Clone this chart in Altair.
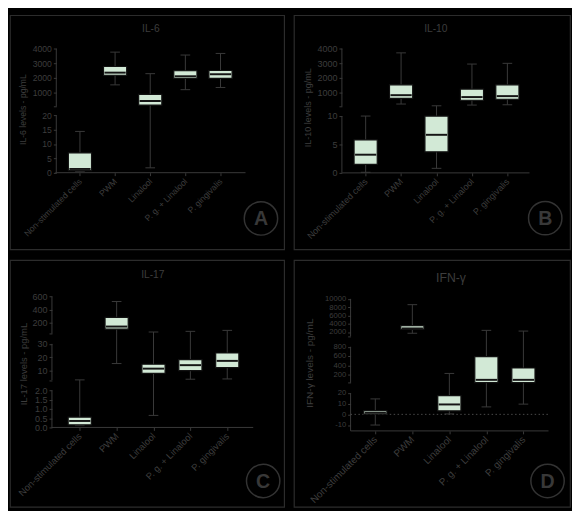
import json
import altair as alt
import pandas as pd

categories = ["Non-stimulated cells", "PWM", "Linalool", "P. g. + Linalool", "P. gingivalis"]

# IL-6 (min, Q1, median, Q3, max)
il6_min = [0.5, 1510, 1.7, 1180, 1330]
il6_q1 = [0.7, 2170, 120, 1950, 1950]
il6_median = [1.3, 2350, 400, 2100, 2240]
il6_q3 = [6.9, 2770, 850, 2480, 2500]
il6_max = [14.4, 3760, 2280, 3560, 3670]

# IL-10
il10_min = [0.1, 190, 0.8, 120, 140]
il10_q1 = [1.5, 580, 3.7, 450, 520]
il10_median = [3.2, 800, 6.7, 670, 735]
il10_q3 = [5.8, 1510, 10.0, 1220, 1510]
il10_max = [10.0, 3710, 70, 2940, 2990]

# IL-17
il17_min = [0.1, 15.3, 0.65, 3.6, 3.8]
il17_q1 = [0.14, 100, 8.0, 10.0, 12.2]
il17_median = [0.35, 140, 11.5, 14.1, 17.3]
il17_q3 = [0.56, 280, 14.8, 18.3, 23.2]
il17_max = [3.1, 525, 56, 66, 81]

# IFN-gamma
ifng_min = [-10, 1700, 0.4, 7, 9.6]
ifng_q1 = [0.3, 2630, 3.3, 26, 26]
ifng_median = [1.5, 2860, 9.3, 87, 87]
ifng_q3 = [3.5, 3560, 17.5, 586, 343]
ifng_max = [14.5, 8600, 225, 2400, 2230]

il6_ticks = [0, 5, 10, 15, 20, 1000, 2000, 3000, 4000]
il6_tick_labels = ["0", "5", "10", "15", "20", "1000", "2000", "3000", "4000"]
il10_ticks = [0, 5, 10, 1000, 2000, 3000, 4000]
il10_tick_labels = ["0", "5", "10", "1000", "2000", "3000", "4000"]
il17_ticks = [0, 0.5, 1.0, 1.5, 2.0, 10, 20, 30, 200, 400, 600]
il17_tick_labels = ["0.0", "0.5", "1.0", "1.5", "2.0", "10", "20", "30", "200", "400", "600"]
ifng_ticks = [-10, 0, 10, 20, 200, 400, 600, 800, 2000, 4000, 6000, 8000, 10000]
ifng_tick_labels = ["-10", "0", "10", "20", "200", "400", "600", "800",
                    "2000", "4000", "6000", "8000", "10000"]

FONT = "Liberation Sans"
TEXT = "#3d3d3d"
AX = "#3a3a3a"
BORDER = "#2c2c2c"
BOX = "#d2e9d6"
EDGE = "#111111"
MED = "#151515"

# layout of each panel (reference pixel space) and its broken y axis
panels = [
    dict(title="IL-6", ytitle="IL-6 levels - pg/mL", letter="A",
         stats=(il6_min, il6_q1, il6_median, il6_q3, il6_max),
         ticks=il6_ticks, labels=il6_tick_labels,
         box=(1, 1, 284, 243), size=(280, 239), fs=8.8, yfs=8.8, tfs=10.5,
         knots=[(0, 164.5), (20, 105), (27, 95.7), (4000, 35.7)],
         segments=[(0, 20), (27, 4000)], breaks=[27], base=0,
         axis_x=49, xline=(48, 245), x0=73.5, dx=36.4,
         title_xy=(147, 15), ytitle_xy=(15, 99), circle=(261, 212), zero=False),
    dict(title="IL-10", ytitle="IL-10 levels - pg/mL", letter="B",
         stats=(il10_min, il10_q1, il10_median, il10_q3, il10_max),
         ticks=il10_ticks, labels=il10_tick_labels,
         box=(293, 1, 286, 243), size=(282, 239), fs=9.2, yfs=9.2, tfs=10.5,
         knots=[(0, 164.7), (10, 105.7), (26, 95.7), (4000, 35.7)],
         segments=[(0, 10), (26, 4000)], breaks=[26], base=0,
         axis_x=342.7, xline=(343, 537), x0=367.3, dx=36.7,
         title_xy=(440, 15), ytitle_xy=(308, 97), circle=(553.3, 211.7), zero=False),
    dict(title="IL-17", ytitle="IL-17 levels - pg/mL", letter="C",
         stats=(il17_min, il17_q1, il17_median, il17_q3, il17_max),
         ticks=il17_ticks, labels=il17_tick_labels,
         box=(1, 253, 284, 256), size=(280, 252), fs=9.6, yfs=9.2, tfs=10.5,
         knots=[(0, 426.7), (2, 388.3), (3, 377.5), (30, 340), (32, 329.3), (600, 291)],
         segments=[(0, 2), (3, 30), (32, 600)], breaks=[3, 32], base=0,
         axis_x=44.5, xline=(44, 253), x0=73.3, dx=38.2,
         title_xy=(149, 269), ytitle_xy=(15.7, 361), circle=(263.3, 482.3), zero=False),
    dict(title="IFN-γ", ytitle="IFN-γ levels - pg/mL", letter="D",
         stats=(ifng_min, ifng_q1, ifng_median, ifng_q3, ifng_max),
         ticks=ifng_ticks, labels=ifng_tick_labels,
         box=(293, 253, 286, 256), size=(282, 252), fs=10.2, yfs=7.8, tfs=12.5,
         knots=[(-10, 424.2), (20, 391), (25, 380.3), (800, 343), (1000, 332), (10000, 293.3)],
         segments=[(-15.5, 20), (25, 800), (1000, 10000)], breaks=[25, 1000], base=-15.5,
         axis_x=351.7, xline=(351.7, 556.7), x0=377.3, dx=38.35,
         title_xy=(455.7, 272), ytitle_xy=(309.3, 360), circle=(555.7, 482.3), zero=True),
]


def piecewise(field, knots):
    def seg(i):
        (v0, y0), (v1, y1) = knots[i], knots[i + 1]
        s = (y1 - y0) / (v1 - v0)
        return f"({y0} + ({field} - ({v0})) * ({s}))"
    expr = seg(len(knots) - 2)
    for i in range(len(knots) - 3, -1, -1):
        expr = f"({field} <= {knots[i + 1][0]} ? {seg(i)} : {expr})"
    return expr


def to_px(v, knots):
    i = 0
    while i < len(knots) - 2 and v > knots[i + 1][0]:
        i += 1
    (v0, y0), (v1, y1) = knots[i], knots[i + 1]
    return y0 + (v - v0) * (y1 - y0) / (v1 - v0)


one = pd.DataFrame({"k": [0]})


def panel(p):
    ox, oy, W, H = p["box"]
    pw, ph = p["size"]
    sx, sy = pw / W, ph / H
    knots = p["knots"]
    fs = p["fs"]
    xs = alt.Scale(domain=[ox, ox + W], nice=False, zero=False)
    ys = alt.Scale(domain=[oy + H, oy], nice=False, zero=False)
    mn, q1, md, q3, mx = p["stats"]
    df = pd.DataFrame({"idx": list(range(len(categories))), "category": categories,
                       "vmin": mn, "vq1": q1, "vmed": md, "vq3": q3, "vmax": mx})
    calc = {"xc": f"{p['x0']} + datum.idx * {p['dx']}"}
    for c in ["vmin", "vq1", "vmed", "vq3", "vmax"]:
        calc["y" + c[1:]] = piecewise(f"datum.{c}", knots)
    base = alt.Chart(df).transform_calculate(**calc)

    base_px = to_px(p["base"], knots)
    xvals = [round(p["x0"] + i * p["dx"], 4) for i in range(len(categories))]
    xaxis = alt.Axis(values=xvals,
                     labelExpr=f"{json.dumps(categories)}[indexof({json.dumps(xvals)}, datum.value)]",
                     labelAngle=-45, labelAlign="right", labelBaseline="middle",
                     labelFontSize=fs, labelColor=TEXT, labelFont=FONT,
                     tickColor=AX, tickSize=3, tickWidth=1, labelPadding=4,
                     domain=False, grid=False, title=None,
                     offset=-(oy + H - base_px) * sy,
                     labelOverlap=False, labelFlush=False, labelBound=False)
    yvals = [round(to_px(t, knots), 4) for t in p["ticks"]] + \
            [round(to_px(b, knots), 4) for b in p["breaks"]]
    ylabels = list(p["labels"]) + ["" for _ in p["breaks"]]
    yaxis = alt.Axis(values=yvals,
                     labelExpr=f"{json.dumps(ylabels)}[indexof({json.dumps(yvals)}, datum.value)]",
                     labelFontSize=p["yfs"], labelColor=TEXT, labelFont=FONT,
                     tickColor=AX, tickSize=3, tickWidth=1, labelPadding=2,
                     domain=False, grid=False, title=None,
                     offset=-(p["axis_x"] - ox) * sx,
                     labelOverlap=False, labelFlush=False, labelBound=False)

    bw = 12 * sx
    cw = 5 * sx

    def X(f):
        return alt.X(f, scale=xs, axis=xaxis)

    def Y(f):
        return alt.Y(f, scale=ys, axis=yaxis)

    def XD(v):
        return alt.XDatum(v, scale=xs, axis=xaxis)

    def YD(v):
        return alt.YDatum(v, scale=ys, axis=yaxis)

    whisk = base.mark_rule(color=AX, strokeWidth=1).encode(
        x=X("xc:Q"), y=Y("ymin:Q"), y2="ymax:Q")

    seg_df = pd.DataFrame({"lo": [s[0] for s in p["segments"]], "hi": [s[1] for s in p["segments"]]})
    segs = alt.Chart(seg_df).transform_calculate(
        ylo=piecewise("datum.lo", knots), yhi=piecewise("datum.hi", knots)
    ).mark_rule(color=AX, strokeWidth=1).encode(
        x=XD(p["axis_x"]), y=Y("ylo:Q"), y2="yhi:Q")

    xline = alt.Chart(one).mark_rule(color=AX, strokeWidth=1).encode(
        x=XD(p["xline"][0]), x2=alt.X2Datum(p["xline"][1]), y=YD(base_px))

    layers = [whisk, segs, xline]
    if p["zero"]:
        layers.append(alt.Chart(one).mark_rule(color="#4a4a4a", strokeWidth=1, strokeDash=[1.5, 2.5]).encode(
            x=XD(p["axis_x"]), x2=alt.X2Datum(p["xline"][1]), y=YD(to_px(0, knots))))

    cap_lo = base.mark_rule(color=AX, strokeWidth=1, xOffset=-cw, x2Offset=cw).encode(
        x=X("xc:Q"), x2="xc:Q", y=Y("ymin:Q"))
    cap_hi = base.mark_rule(color=AX, strokeWidth=1, xOffset=-cw, x2Offset=cw).encode(
        x=X("xc:Q"), x2="xc:Q", y=Y("ymax:Q"))
    box = base.mark_rect(fill=BOX, stroke=EDGE, strokeWidth=1.2, xOffset=-bw, x2Offset=bw).encode(
        x=X("xc:Q"), x2="xc:Q", y=Y("yq1:Q"), y2="yq3:Q",
        tooltip=["category:N", "vmin:Q", "vq1:Q", "vmed:Q", "vq3:Q", "vmax:Q"])
    med = base.mark_rule(color=MED, strokeWidth=2, xOffset=-bw + 1, x2Offset=bw - 1).encode(
        x=X("xc:Q"), x2="xc:Q", y=Y("ymed:Q"))
    layers += [cap_lo, cap_hi, box, med]

    title = alt.Chart(one).mark_text(text=p["title"], font=FONT, fontSize=p["tfs"], color=TEXT,
                                     baseline="middle", align="center").encode(
        x=XD(p["title_xy"][0]), y=YD(p["title_xy"][1]))
    ytitle = alt.Chart(one).mark_text(text=p["ytitle"], font=FONT, fontSize=fs, color=TEXT,
                                      baseline="middle", align="center", angle=270).encode(
        x=XD(p["ytitle_xy"][0]), y=YD(p["ytitle_xy"][1]))
    r = 19.5 * sx
    circ = alt.Chart(one).mark_point(shape="circle", filled=False, size=3.14159 * r * r,
                                     stroke="#333333", strokeWidth=1.5, opacity=1).encode(
        x=XD(p["circle"][0]), y=YD(p["circle"][1]))
    letter = alt.Chart(one).mark_text(text=p["letter"], font=FONT, fontSize=20, fontWeight="bold",
                                      color="#383838", baseline="middle", align="center", dy=1).encode(
        x=XD(p["circle"][0]), y=YD(p["circle"][1]))
    layers += [title, ytitle, circ, letter]

    return alt.layer(*layers).properties(width=pw, height=ph)


pa, pb, pc, pd_ = [panel(p) for p in panels]

chart = alt.vconcat(
    alt.hconcat(pa, pb, spacing=8),
    alt.hconcat(pc, pd_, spacing=8),
    spacing=9,
).properties(
    background="#000000",
    padding={"left": 1, "top": 1, "right": 1, "bottom": 1},
).configure_view(stroke=BORDER, strokeWidth=1.2, fill="#000000")

chart.save("out.html", embed_options={"renderer": "svg", "actions": False})
